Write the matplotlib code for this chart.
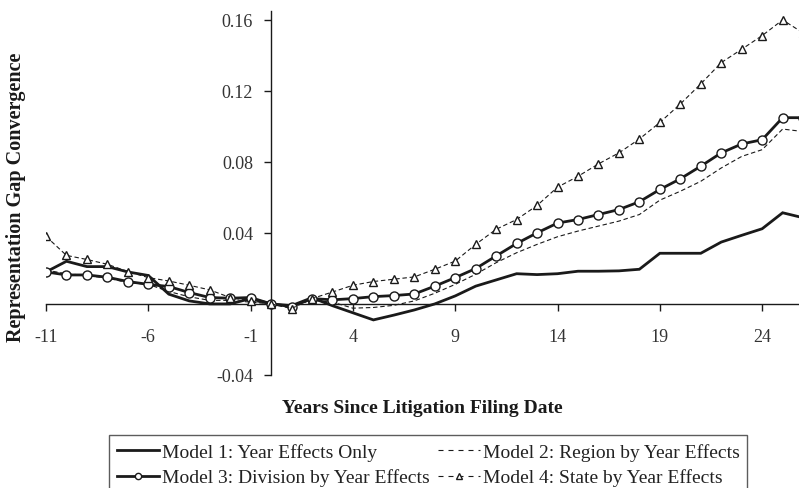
import matplotlib
matplotlib.use("Agg")
import matplotlib.pyplot as plt
from matplotlib.lines import Line2D

plt.rcParams['font.family'] = ['Liberation Serif', 'DejaVu Serif']

years = list(range(-11, 27))

model1 = [0.018, 0.024, 0.021, 0.021, 0.018, 0.016, 0.0055, 0.0017, 0.0, 0.0, 0.003,
          0.0, -0.001, 0.0035, -0.001, -0.005, -0.009, -0.0063, -0.0034, 0.0, 0.0045,
          0.010, 0.0135, 0.017, 0.0165, 0.017, 0.0184, 0.0184, 0.0186, 0.0195, 0.0285,
          0.0285, 0.0285, 0.0348, 0.0386, 0.0423, 0.0513, 0.0485]

model2 = [0.019, 0.017, 0.016, 0.0145, 0.012, 0.011, 0.007, 0.004, 0.002, 0.002, 0.001,
          0.0, -0.001, 0.002, 0.001, -0.0024, -0.002, -0.0008, 0.0017, 0.006, 0.011,
          0.0167, 0.0232, 0.0288, 0.0335, 0.0378, 0.041, 0.0438, 0.0466, 0.0503, 0.0584,
          0.0634, 0.069, 0.0765, 0.083, 0.0868, 0.0984, 0.097]

model3 = [0.018, 0.0163, 0.0163, 0.015, 0.0126, 0.011, 0.0098, 0.0064, 0.0036, 0.0032, 0.0036,
          0.0, -0.0015, 0.003, 0.0023, 0.003, 0.0041, 0.0047, 0.0056, 0.010, 0.0148,
          0.0199, 0.027, 0.034, 0.040, 0.0455, 0.0475, 0.0503, 0.0531, 0.0575, 0.0644,
          0.0704, 0.0775, 0.085, 0.090, 0.0924, 0.1048, 0.1048]

model4 = [0.038, 0.0273, 0.025, 0.0223, 0.0182, 0.0148, 0.0129, 0.0105, 0.0079, 0.0036, 0.0017,
          0.0, -0.0026, 0.003, 0.0067, 0.0105, 0.0126, 0.0139, 0.0152, 0.0195, 0.0241,
          0.0335, 0.042, 0.0475, 0.0554, 0.0657, 0.0718, 0.0788, 0.085, 0.0928, 0.1021,
          0.1125, 0.1238, 0.1358, 0.1433, 0.151, 0.1598, 0.1525]

labels = ["Model 1: Year Effects Only", "Model 2: Region by Year Effects",
          "Model 3: Division by Year Effects", "Model 4: State by Year Effects"]

xticks = [-11, -6, -1, 4, 9, 14, 19, 24]
yticks = [-0.04, 0.04, 0.08, 0.12, 0.16]

fig = plt.figure(figsize=(7.99, 4.89), dpi=100)
ax = fig.add_axes([46/799, 1-376/489, 1-46/799, (376-11.7)/489])

ax.plot(years, model1, color='#1a1a1a', lw=2.0, solid_joinstyle='miter', zorder=3)
ax.plot(years, model2, color='#1a1a1a', lw=0.8, ls=(0, (4, 2.5)), zorder=2)
ax.plot(years, model3, color='#1a1a1a', lw=2.0, marker='o', ms=6.5, mfc='white',
        mec='#1a1a1a', mew=1.0, zorder=4)
ax.plot(years, model4, color='#1a1a1a', lw=0.8, ls=(0, (4, 2.5)), marker='^', ms=6,
        mfc='white', mec='#1a1a1a', mew=1.0, zorder=5)

ax.set_xlim(-11, 25.8)
ax.set_ylim(-0.04, 0.165)
ax.spines['left'].set_position(('data', 0))
ax.spines['bottom'].set_position(('data', 0))
ax.spines['top'].set_visible(False)
ax.spines['right'].set_visible(False)
for s in ('left', 'bottom'):
    ax.spines[s].set_color('#1a1a1a')
    ax.spines[s].set_linewidth(1.0)

ax.set_xticks(xticks)
ax.set_xticklabels([str(v) for v in xticks])
ax.set_yticks(yticks)
ax.set_yticklabels(['%.2f' % v for v in yticks])
ax.tick_params(axis='x', direction='out', length=5, width=1, pad=12, labelsize=13,
               labelcolor='#333333', color='#1a1a1a')
ax.tick_params(axis='y', direction='out', length=5, width=1, pad=8, labelsize=13,
               labelcolor='#333333', color='#1a1a1a')

fig.text(422/799, 1-409/489, "Years Since Litigation Filing Date", ha='center', va='center',
         fontsize=14, fontweight='bold', color='#1a1a1a')
fig.text(16/799, 1-197/489, "Representation Gap Convergence", ha='center', va='center',
         rotation=90, fontsize=14.5, fontweight='bold', color='#1a1a1a')

handles = [
    Line2D([], [], color='#1a1a1a', lw=2.0),
    Line2D([], [], color='#1a1a1a', lw=2.0, marker='o', ms=4.5, mfc='white', mec='#1a1a1a'),
    Line2D([], [], color='#1a1a1a', lw=0.8, ls=(0, (4.5, 4.5))),
    Line2D([], [], color='#1a1a1a', lw=0.8, ls=(0, (4.5, 4.5)), marker='^', ms=4.5,
           mfc='white', mec='#1a1a1a'),
]
leg = fig.legend(handles, [labels[0], labels[2], labels[1], labels[3]], ncol=2,
                 loc='upper left', bbox_to_anchor=(109/799, 1-436/489),
                 frameon=True, fancybox=False, edgecolor='#333333', fontsize=14,
                 handlelength=2.15, handletextpad=0.15, columnspacing=0.45,
                 labelspacing=0.4, borderpad=0.4, borderaxespad=0)
leg.get_frame().set_linewidth(1.0)
for t in leg.get_texts():
    t.set_color('#222222')

fig.savefig('out.png', dpi=100)
